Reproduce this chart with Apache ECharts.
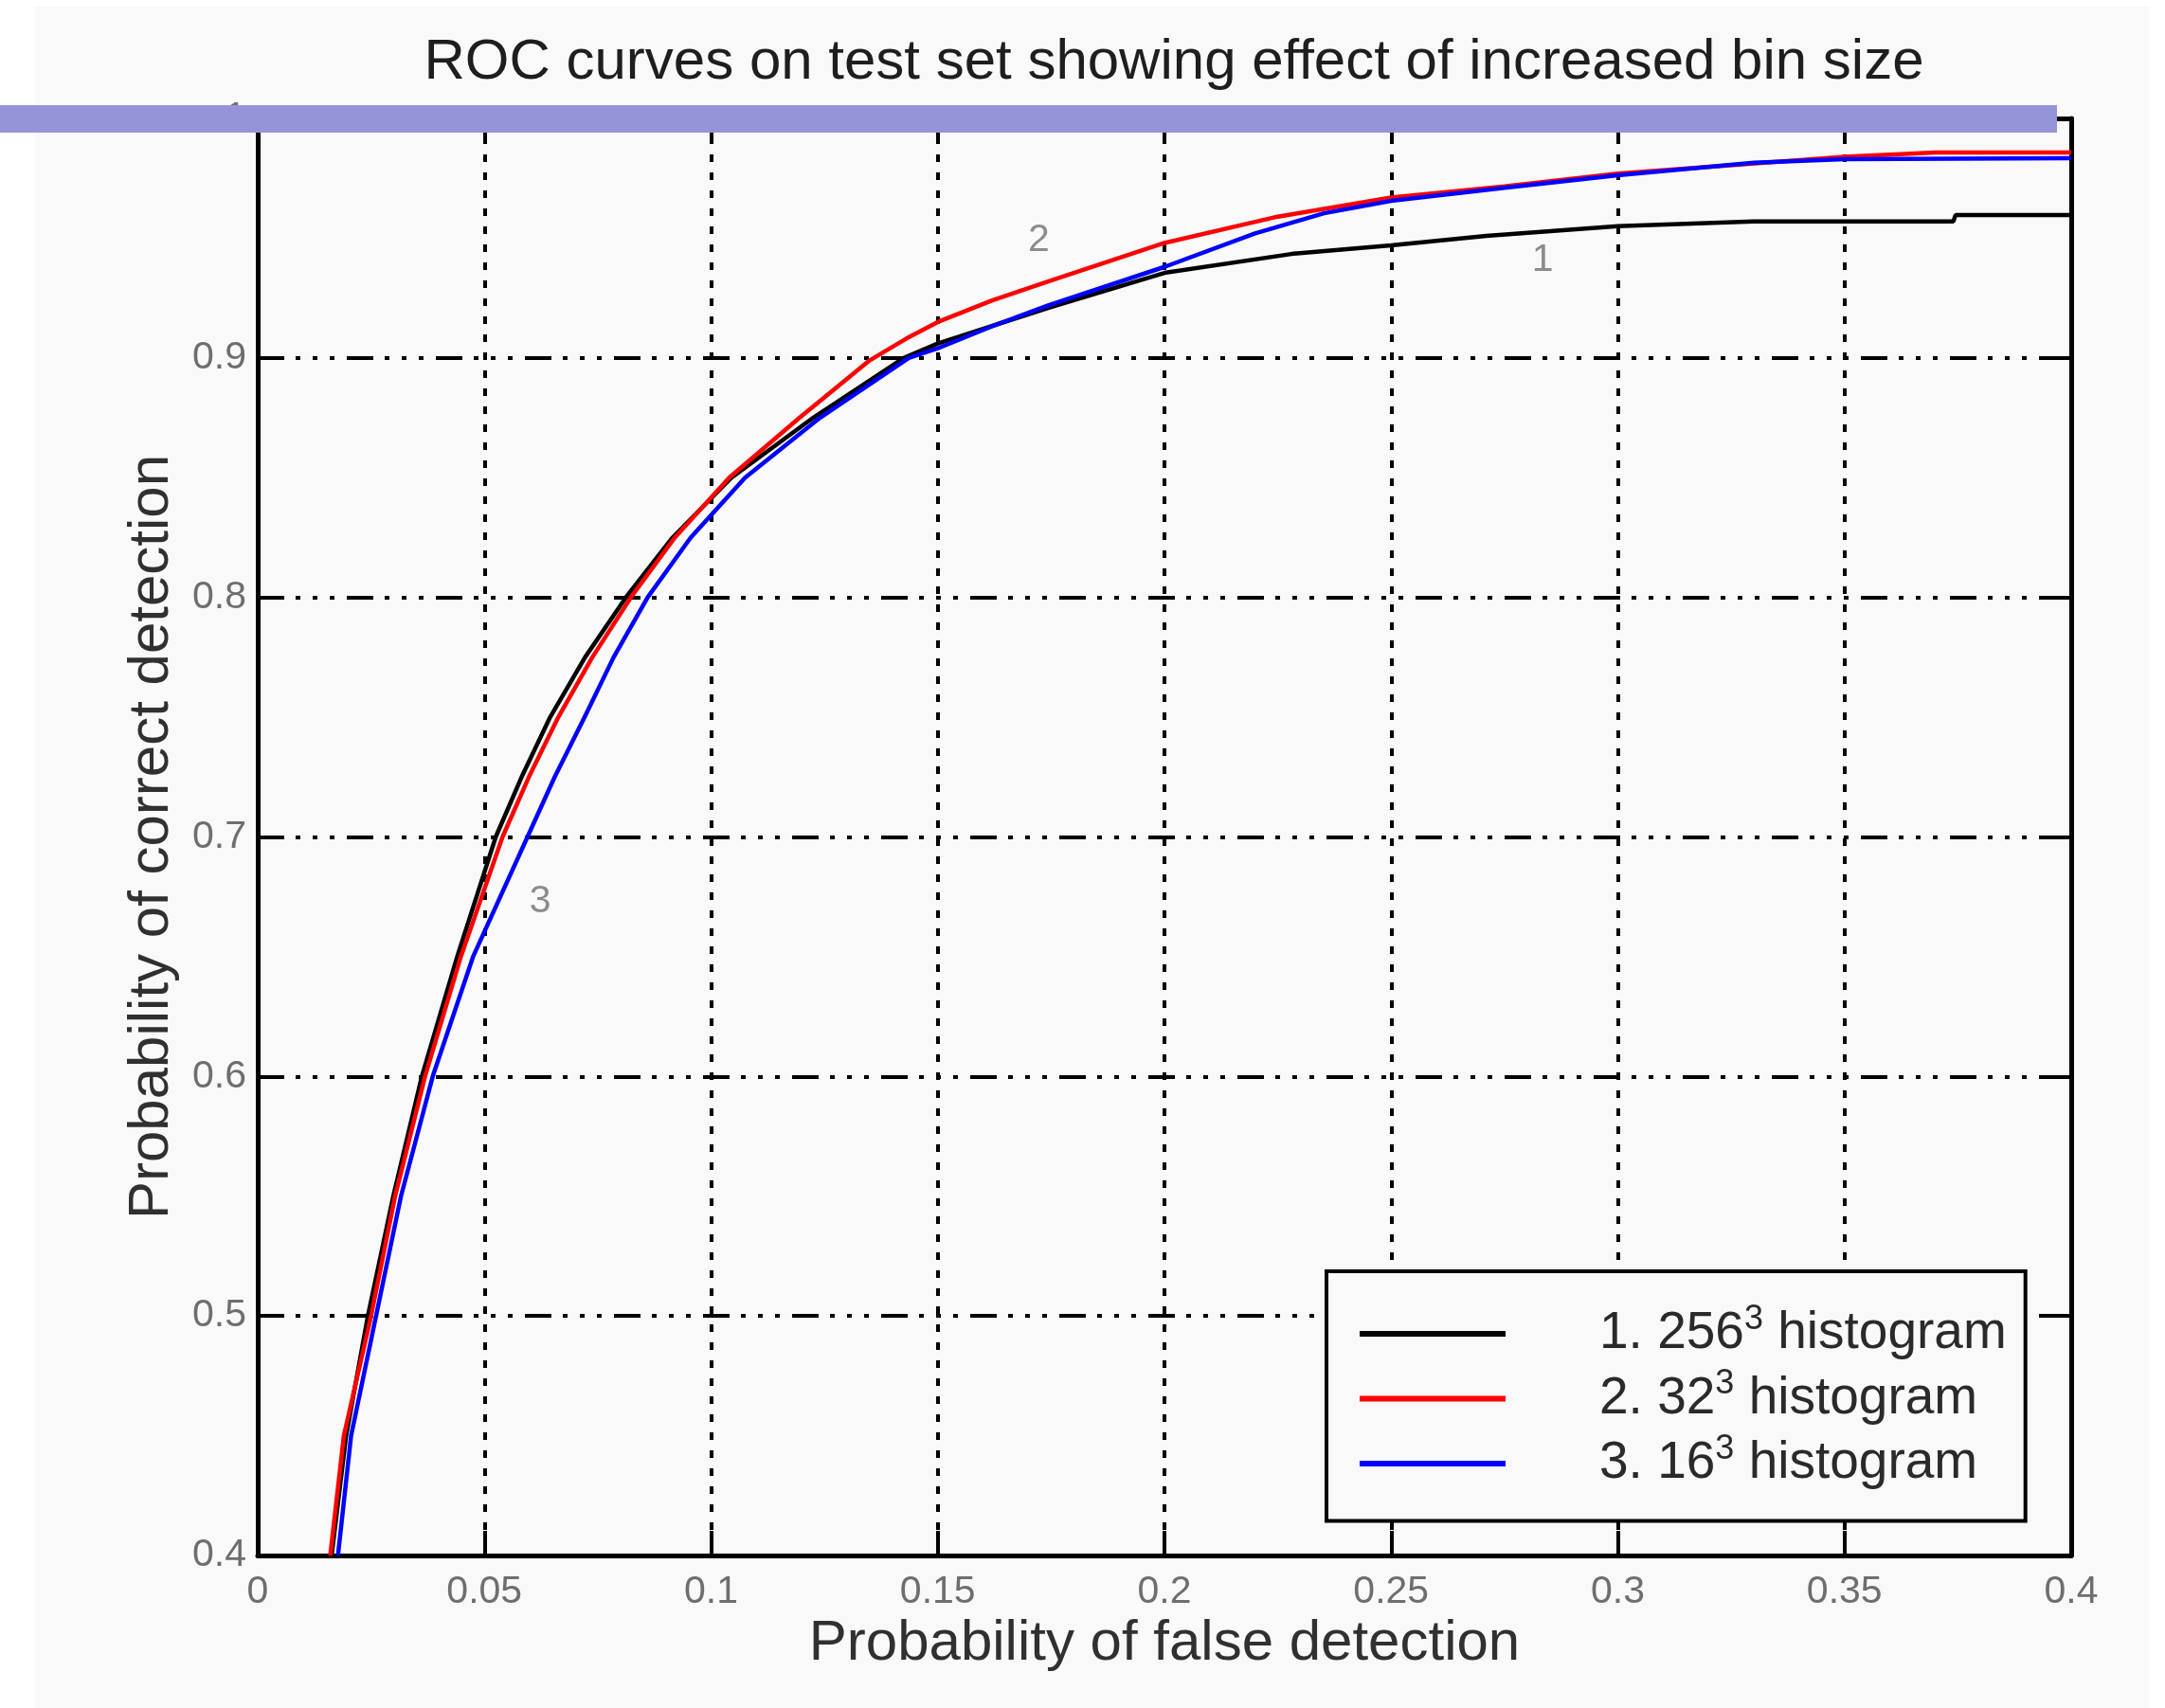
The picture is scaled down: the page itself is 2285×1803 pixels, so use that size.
<!DOCTYPE html>
<html>
<head>
<meta charset="utf-8">
<script src="https://cdn.jsdelivr.net/npm/echarts@6/dist/echarts.min.js"></script>
<style>
  html, body { margin: 0; padding: 0; background: #ffffff; }
  #chart { width: 2285px; height: 1803px; }
</style>
</head>
<body>
<div id="chart"></div>
<script>
// ---- data ----
const titleText = 'ROC curves on test set showing effect of increased bin size';
const xAxisName = 'Probability of false detection';
const yAxisName = 'Probability of correct detection';

const seriesNames = ['1. 256³ histogram', '2. 32³ histogram', '3. 16³ histogram'];
const legendParts = [['1. 256', '3', ' histogram'], ['2. 32', '3', ' histogram'], ['3. 16', '3', ' histogram']];

// 1. 256^3 histogram (black)
const fprBlack = [0.0163, 0.0195, 0.0243, 0.0299, 0.0362, 0.0440, 0.0525, 0.0582, 0.0645, 0.0722, 0.0812, 0.0915, 0.1045, 0.1225, 0.1425, 0.1500, 0.1745, 0.2000, 0.2280, 0.2500, 0.2710, 0.3000, 0.3300, 0.3740, 0.3745, 0.4000];
const tprBlack = [0.400, 0.450, 0.500, 0.550, 0.600, 0.650, 0.700, 0.725, 0.750, 0.775, 0.800, 0.825, 0.850, 0.875, 0.900, 0.906, 0.921, 0.9355, 0.9434, 0.947, 0.951, 0.955, 0.957, 0.957, 0.9597, 0.9597];

// 2. 32^3 histogram (red)
const fprRed = [0.0160, 0.0190, 0.0250, 0.0303, 0.0369, 0.0448, 0.0540, 0.0598, 0.0663, 0.0738, 0.0823, 0.0920, 0.1040, 0.1195, 0.1350, 0.1430, 0.1500, 0.1620, 0.1745, 0.2000, 0.2250, 0.2500, 0.2750, 0.3000, 0.3500, 0.3700, 0.4000];
const tprRed = [0.400, 0.450, 0.500, 0.550, 0.600, 0.650, 0.700, 0.725, 0.750, 0.775, 0.800, 0.825, 0.850, 0.875, 0.899, 0.908, 0.915, 0.924, 0.932, 0.948, 0.959, 0.967, 0.9716, 0.977, 0.984, 0.9858, 0.9858];

// 3. 16^3 histogram (blue)
const fprBlue = [0.0177, 0.0206, 0.0261, 0.0316, 0.0386, 0.0475, 0.0595, 0.0655, 0.0721, 0.0785, 0.0860, 0.0955, 0.1075, 0.1240, 0.1436, 0.1500, 0.1617, 0.1745, 0.2000, 0.2200, 0.2352, 0.2500, 0.2750, 0.3000, 0.3300, 0.3500, 0.4000];
const tprBlue = [0.400, 0.450, 0.500, 0.550, 0.600, 0.650, 0.700, 0.725, 0.750, 0.775, 0.800, 0.825, 0.850, 0.875, 0.900, 0.904, 0.913, 0.922, 0.938, 0.952, 0.9604, 0.9656, 0.971, 0.9763, 0.9815, 0.983, 0.9834];

const curveTagText = ['2', '1', '3'];
const curveTagX = [0.1723, 0.2834, 0.0623];
const curveTagY = [0.949, 0.9407, 0.6729];

const xTicks = ['0', '0.05', '0.1', '0.15', '0.2', '0.25', '0.3', '0.35', '0.4'];
const yTicks = ['0.4', '0.5', '0.6', '0.7', '0.8', '0.9', '1'];

// ---- build ----
const zip = (xs, ys) => xs.map((x, i) => [x, ys[i]]);
const FONT = '"Liberation Sans", Arial, Helvetica, sans-serif';
const chart = echarts.init(document.getElementById('chart'), null, { renderer: 'canvas' });

const hDash = [28, 12, 5, 13, 5, 13, 5, 13];
const vDash = [8, 11];

const option = {
  backgroundColor: '#ffffff',
  animation: false,
  title: {
    text: titleText,
    left: 1234,
    top: 31,
    textAlign: 'center',
    textStyle: { fontFamily: FONT, fontSize: 60, fontWeight: 'normal', color: '#1e1e1e' }
  },
  grid: { left: 272, right: 99, top: 125, bottom: 161, containLabel: false },
  legend: {
    data: seriesNames,
    orient: 'vertical',
    left: 1400,
    top: 1342,
    padding: [33, 20, 33, 35],
    itemGap: 8,
    itemWidth: 154,
    itemHeight: 20,
    backgroundColor: '#f9f9f9',
    borderColor: '#000000',
    borderWidth: 4,
    borderRadius: 0,
    icon: 'path://M0,0 L100,0 L100,4 L0,4 Z',
    selectedMode: false,
    formatter: function (name) {
      const p = legendParts[seriesNames.indexOf(name)];
      return '{n|' + p[0] + '}{s|' + p[1] + '}{n|' + p[2] + '}';
    },
    textStyle: {
      fontFamily: FONT,
      padding: [0, 0, 0, 94],
      rich: {
        n: { fontFamily: FONT, fontSize: 55, color: '#2a2a2a', lineHeight: 66 },
        s: { fontFamily: FONT, fontSize: 36, color: '#2a2a2a', lineHeight: 40, verticalAlign: 'top' }
      }
    }
  },
  xAxis: [{
    type: 'value', min: 0, max: 0.4, interval: 0.05, position: 'bottom',
    name: xAxisName, nameLocation: 'middle', nameGap: 56,
    nameTextStyle: { fontFamily: FONT, fontSize: 60, color: '#303030' },
    axisLine: { show: true, onZero: false, lineStyle: { color: '#000', width: 5 } },
    axisTick: { show: true, inside: true, length: 26, lineStyle: { color: '#000', width: 4 } },
    axisLabel: {
      fontFamily: FONT, fontSize: 41, color: '#6e6e6e', margin: 18,
      formatter: (v) => xTicks[Math.round(v / 0.05)]
    },
    splitLine: { show: true, lineStyle: { color: '#000', width: 4, type: vDash } }
  }, {
    type: 'value', min: 0, max: 0.4, interval: 0.05, position: 'top',
    axisLine: { show: true, onZero: false, lineStyle: { color: '#000', width: 5 } },
    axisTick: { show: true, inside: true, length: 26, lineStyle: { color: '#000', width: 4 } },
    axisLabel: { show: false },
    splitLine: { show: false }
  }],
  yAxis: [{
    type: 'value', min: 0.4, max: 1.0, interval: 0.1, position: 'left',
    name: yAxisName, nameLocation: 'middle', nameGap: 82,
    nameTextStyle: { fontFamily: FONT, fontSize: 60, color: '#303030' },
    axisLine: { show: true, onZero: false, lineStyle: { color: '#000', width: 5 } },
    axisTick: { show: true, inside: true, length: 22, lineStyle: { color: '#000', width: 4 } },
    axisLabel: {
      fontFamily: FONT, fontSize: 41, color: '#6e6e6e', margin: 12,
      formatter: (v) => yTicks[Math.round((v - 0.4) / 0.1)]
    },
    splitLine: { show: true, lineStyle: { color: '#000', width: 4, type: hDash } }
  }, {
    type: 'value', min: 0.4, max: 1.0, interval: 0.1, position: 'right',
    axisLine: { show: true, onZero: false, lineStyle: { color: '#000', width: 5 } },
    axisTick: { show: true, inside: true, length: 22, lineStyle: { color: '#000', width: 4 } },
    axisLabel: { show: false },
    splitLine: { show: false }
  }],
  series: [
    { name: seriesNames[0], type: 'line', data: zip(fprBlack, tprBlack), showSymbol: false, symbol: 'none',
      lineStyle: { color: '#000000', width: 4.5 }, itemStyle: { color: '#000000' }, z: 3 },
    { name: seriesNames[1], type: 'line', data: zip(fprRed, tprRed), showSymbol: false, symbol: 'none',
      lineStyle: { color: '#ff0000', width: 4.5 }, itemStyle: { color: '#ff0000' }, z: 4 },
    { name: seriesNames[2], type: 'line', data: zip(fprBlue, tprBlue), showSymbol: false, symbol: 'none',
      lineStyle: { color: '#0000ff', width: 4.5 }, itemStyle: { color: '#0000ff' }, z: 5 },
    { name: 'tags', type: 'scatter', symbolSize: 1, itemStyle: { color: 'rgba(0,0,0,0)' }, silent: true,
      data: curveTagX.map((x, i) => ({ value: [x, curveTagY[i]], tag: curveTagText[i] })),
      label: { show: true, position: 'inside', fontFamily: FONT, fontSize: 41, color: '#707070',
        formatter: (p) => p.data.tag }, z: 6 }
  ],
  graphic: [
    { type: 'rect', z: -100, silent: true, shape: { x: 37, y: 7, width: 2231, height: 1796 }, style: { fill: '#f9f9f9' } },
    { type: 'rect', z: 100, silent: true, shape: { x: 0, y: 111, width: 2171, height: 29 }, style: { fill: '#9694d9' } }
  ]
};
chart.setOption(option);
</script>
</body>
</html>
